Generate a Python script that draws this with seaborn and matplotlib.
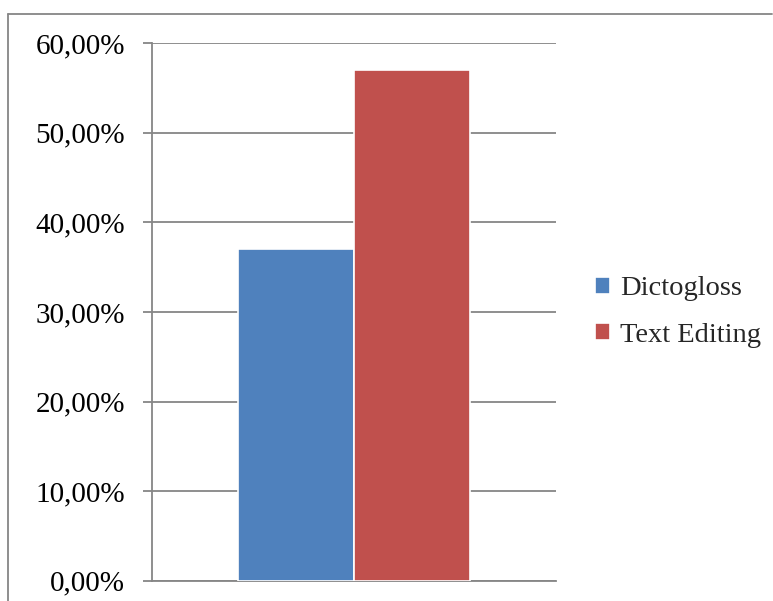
import matplotlib
matplotlib.use("Agg")
import matplotlib.pyplot as plt
from matplotlib.lines import Line2D
from matplotlib.ticker import FuncFormatter, MultipleLocator
import pandas as pd
import seaborn as sns

# Share of responses per activity
series = ["Dictogloss", "Text Editing"]
values = [0.37, 0.57]
group = [""] * len(series)
colors = ["#4F81BD", "#C0504D"]

df = pd.DataFrame({"group": group, "series": series, "value": values})

sns.set_theme(style="white")
plt.rcParams["font.family"] = ["Liberation Serif", "DejaVu Serif"]

fig = plt.figure(figsize=(7.73, 6.01), dpi=100)
ax = fig.add_axes([152 / 773, 20.3 / 601, 404 / 773, 537.4 / 601])

sns.barplot(data=df, x="group", y="value", hue="series", palette=colors,
            width=0.572, saturation=1, edgecolor="white", linewidth=1.2,
            ax=ax, zorder=3)

ax.set_xlim(-0.5, 0.5)
ax.set_ylim(0, 0.6)
ax.yaxis.set_major_locator(MultipleLocator(0.1))
ax.yaxis.set_major_formatter(
    FuncFormatter(lambda v, _: f"{v * 100:.2f}%".replace(".", ",")))
ax.grid(axis="y", color="#868686", linewidth=1.3, zorder=0)
ax.set_axisbelow(True)
ax.set_xlabel("")
ax.set_ylabel("")
ax.set_xticks([])

for side in ("top", "right"):
    ax.spines[side].set_visible(False)
for side in ("left", "bottom"):
    ax.spines[side].set_color("#868686")
    ax.spines[side].set_linewidth(1.3)

ax.tick_params(axis="y", left=True, length=6.5, width=1.3, color="#868686",
               pad=13, labelsize=21, labelcolor="black")

handles, labels = ax.get_legend_handles_labels()
ax.legend(handles, labels, loc="center left",
          bbox_to_anchor=(569 / 773, 1 - 312 / 601),
          bbox_transform=fig.transFigure, frameon=False, fontsize=20.5,
          handlelength=0.55, handleheight=0.55, handletextpad=0.35,
          labelspacing=0.75)

# Outer frame around the chart area
frame_kw = dict(color="#868686", linewidth=1.3, transform=fig.transFigure)
fig.add_artist(Line2D([8 / 773, 8 / 773], [0, 1 - 14 / 601], **frame_kw))
fig.add_artist(Line2D([8 / 773, 772 / 773], [1 - 14 / 601, 1 - 14 / 601], **frame_kw))

fig.savefig("out.png", dpi=100, facecolor="white")
